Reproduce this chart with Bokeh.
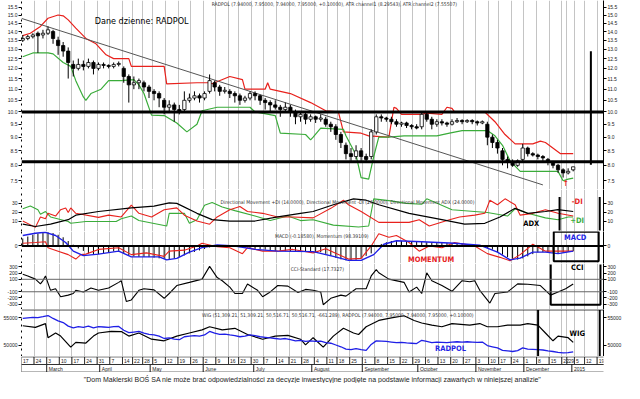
import numpy as np
import pandas as pd
from bokeh.plotting import figure
from bokeh.layouts import column
from bokeh.models import (Range1d, FixedTicker, LinearAxis, LogAxis, Span, Label,
                          PrintfTickFormatter, ColumnDataSource, Grid)
from bokeh.embed import file_html
from bokeh.resources import INLINE

# ---------------- sessions (trading days of the Warsaw exchange) ----------------
holidays = ["2014-04-18", "2014-04-21", "2014-05-01", "2014-06-19", "2014-08-15",
            "2014-11-11", "2014-12-24", "2014-12-25", "2014-12-26", "2014-12-31",
            "2015-01-01", "2015-01-06"]
month_names = {1: "2015", 2: "February", 3: "March", 4: "April", 5: "May", 6: "June",
               7: "July", 8: "August", 9: "September", 10: "October",
               11: "November", 12: "December"}

# ---------------- RADPOL price bars (one bar read every second session) ----------------
bar_open = [13.5, 13.6, 13.7, 13.9, 13.8, 13.9, 14.0, 13.5, 13.2, 12.9,
            12.2, 12.0, 12.2, 12.1, 12.3, 12.0, 12.2, 12.15, 12.1, 12.2,
            12.0, 11.6, 11.2, 11.3, 11.3, 11.1, 10.9, 10.8, 10.5, 10.2,
            10.3, 10.1, 10.1, 10.5, 10.6, 10.7, 10.6, 10.9, 11.3, 11.1,
            10.9, 10.9, 10.8, 10.7, 10.5, 10.6, 10.8, 10.7, 10.5, 10.4,
            10.3, 10.2, 10.1, 10.2, 10.0, 9.8, 9.9, 9.7, 9.8, 9.7,
            9.7, 9.5, 9.4, 9.1, 8.7, 8.4, 8.3, 8.5, 8.3, 8.3,
            9.2, 9.8, 9.75, 9.7, 9.6, 9.5, 9.55, 9.45, 9.4, 9.4,
            9.9, 9.7, 9.5, 9.6, 9.55, 9.5, 9.6, 9.65, 9.6, 9.65,
            9.6, 9.55, 9.5, 9.0, 8.8, 8.5, 8.2, 8.1, 8.0, 8.2,
            8.6, 8.4, 8.35, 8.3, 8.2, 8.1, 8.0, 7.85, 7.75, 7.85]
bar_high = [13.8, 13.8, 13.9, 14.0, 14.1, 14.3, 14.1, 13.7, 13.4, 13.1,
            12.4, 12.5, 12.4, 12.5, 12.4, 12.3, 12.3, 12.2, 12.3, 12.35,
            12.1, 11.7, 11.6, 11.5, 11.4, 11.2, 11.0, 10.9, 10.6, 10.5,
            10.4, 10.3, 10.9, 10.8, 10.9, 10.8, 10.9, 11.7, 11.4, 11.2,
            11.1, 11.0, 10.9, 10.8, 10.7, 10.9, 10.9, 10.75, 10.6, 10.5,
            10.5, 10.3, 10.4, 10.3, 10.1, 10.0, 10.0, 9.9, 9.85, 9.9,
            9.8, 9.6, 9.5, 9.2, 8.8, 8.6, 8.7, 8.6, 8.4, 9.3,
            9.9, 9.9, 9.8, 9.8, 9.7, 9.6, 9.6, 9.5, 9.5, 10.0,
            10.0, 9.8, 9.7, 9.7, 9.6, 9.7, 9.75, 9.7, 9.7, 9.7,
            9.65, 9.65, 9.6, 9.1, 8.9, 8.6, 8.3, 8.2, 8.2, 8.75,
            8.65, 8.45, 8.4, 8.35, 8.25, 8.15, 8.05, 7.9, 7.9, 7.95]
bar_low = [13.4, 13.5, 13.6, 12.8, 13.6, 13.8, 13.3, 12.7, 12.6, 11.5,
           11.6, 11.9, 11.9, 12.0, 11.7, 11.9, 12.0, 12.0, 12.0, 12.1,
           11.3, 10.4, 11.0, 11.0, 10.9, 10.6, 10.5, 10.2, 9.9, 10.0,
           9.6, 9.9, 10.0, 10.4, 10.5, 10.4, 10.5, 10.8, 10.9, 10.7,
           10.8, 10.6, 10.4, 10.3, 10.4, 10.5, 10.5, 10.3, 10.1, 10.0,
           10.1, 9.8, 10.0, 9.8, 9.5, 9.6, 9.5, 9.6, 9.55, 9.6,
           9.4, 9.2, 8.9, 8.6, 8.2, 8.15, 8.2, 8.15, 8.1, 8.2,
           9.1, 9.6, 9.6, 9.5, 9.4, 9.4, 9.35, 9.3, 9.3, 9.3,
           9.6, 9.3, 9.4, 9.45, 9.4, 9.45, 9.55, 9.5, 9.55, 9.5,
           9.45, 9.5, 8.7, 8.6, 8.4, 8.0, 7.9, 7.95, 7.95, 8.1,
           8.3, 8.3, 8.2, 8.15, 8.0, 7.9, 7.75, 7.6, 7.7, 7.8]
bar_close = [13.6, 13.7, 13.8, 13.75, 13.9, 14.1, 13.6, 13.2, 12.9, 12.3,
             12.0, 12.2, 12.1, 12.3, 12.0, 12.2, 12.15, 12.1, 12.2, 12.25,
             11.6, 11.2, 11.3, 11.4, 11.1, 10.9, 10.8, 10.6, 10.2, 10.3,
             10.1, 10.0, 10.5, 10.6, 10.7, 10.6, 10.8, 11.4, 11.1, 10.9,
             10.95, 10.8, 10.7, 10.5, 10.6, 10.8, 10.7, 10.5, 10.4, 10.3,
             10.2, 10.1, 10.2, 10.0, 9.8, 9.9, 9.7, 9.8, 9.7, 9.75,
             9.5, 9.4, 9.1, 8.8, 8.4, 8.3, 8.5, 8.3, 8.2, 9.2,
             9.8, 9.75, 9.7, 9.6, 9.5, 9.55, 9.45, 9.4, 9.35, 9.9,
             9.7, 9.5, 9.6, 9.55, 9.5, 9.6, 9.65, 9.6, 9.65, 9.6,
             9.55, 9.6, 9.0, 8.8, 8.6, 8.2, 8.1, 8.0, 8.15, 8.6,
             8.4, 8.35, 8.3, 8.25, 8.1, 8.0, 7.85, 7.75, 7.8, 7.95]

# ATR channels
atr_up_sess = [0, 3, 7, 10, 14, 16, 18, 21, 25, 29, 33, 36, 42, 43, 52, 56, 57, 69, 74, 75,
               82, 87, 88, 96, 97, 98, 106, 114, 120, 125, 127, 134, 137, 145, 147, 148,
               150, 158, 160, 166, 168, 170, 171, 183, 187, 191, 195, 202, 205, 207, 213, 218]
atr_up_val = [13.76, 13.9, 14.3, 14.8, 15.0, 14.95, 14.7, 14.2, 13.6, 13.3, 12.7, 12.5, 12.5,
              12.1, 12.1, 12.1, 11.25, 11.3, 11.3, 11.25, 11.6, 11.45, 11.0, 11.0, 11.3, 11.0,
              10.8, 10.4, 10.05, 10.0, 9.2, 9.15, 9.05, 9.0, 10.2, 10.15, 9.9, 9.9, 9.95, 9.9,
              10.2, 10.15, 10.0, 10.0, 9.6, 9.1, 8.75, 8.75, 8.85, 8.8, 8.4, 8.4]
atr_dn_sess = [0, 4, 10, 12, 16, 19, 21, 24, 25, 27, 31, 34, 39, 44, 46, 48, 51, 56, 61, 65,
               69, 71, 77, 90, 92, 100, 102, 112, 114, 115, 118, 127, 128, 132, 134, 137, 139,
               141, 145, 151, 164, 169, 174, 184, 187, 190, 193, 197, 212, 214, 216, 218]
atr_dn_val = [12.6, 12.8, 12.8, 12.75, 12.3, 12.1, 11.4, 10.65, 10.5, 10.8, 11.0, 11.4, 11.4,
              11.45, 11.2, 10.8, 9.87, 9.85, 9.55, 9.2, 9.5, 10.05, 10.2, 10.2, 10.0, 9.85,
              9.15, 9.1, 8.9, 9.0, 9.35, 9.3, 9.05, 8.35, 7.6, 7.55, 8.3, 9.0, 9.0, 9.05,
              9.05, 9.15, 9.25, 9.25, 9.05, 8.7, 8.15, 7.8, 7.8, 7.5, 7.55, 7.58]
trend_sess = [-0.5, 206.0]
trend_val = [14.79, 7.37]
level_lines = [10.0, 8.12]

# Directional movement
pdi_sess = [0, 3, 6, 7, 9, 11, 18, 19, 25, 37, 39, 43, 46, 57, 58, 64, 66, 69, 72, 75,
            79, 84, 92, 98, 105, 110, 115, 123, 133, 137, 139, 145, 152, 158, 160, 170,
            184, 192, 195, 200, 207, 212, 216, 218]
pdi_val = [24, 27, 23, 18, 21, 15, 10, 8, 10, 10, 13, 16, 11, 5, 19, 19, 8, 12, 28, 31,
           26, 22, 16, 11, 16, 11, 12, 6, 4, 5, 35, 33, 30, 29, 35, 23,
           20, 16, 24, 19, 14, 12, 15, 15]
mdi_sess = [0, 5, 7, 9, 10, 13, 15, 17, 18, 19, 21, 30, 34, 39, 43, 46, 51, 56, 61, 64,
            69, 74, 77, 82, 86, 89, 95, 101, 107, 115, 122, 127, 129, 134, 141, 153, 157,
            161, 169, 173, 179, 183, 185, 188, 191, 195, 197, 202, 207, 212, 218]
mdi_val = [10.5, 3.5, 15, 13, 19, 16, 23, 25, 20, 25, 19, 14.5, 17, 15, 28, 19, 15, 23, 25,
           17, 10.5, 7, 15, 23, 26.5, 21, 19, 15, 15, 14, 24.5, 33.5, 28.5, 21, 9, 9, 12,
           5, 12, 15, 17, 19, 33.5, 28.5, 35, 28.5, 17, 19, 23, 19, 16]
adx_sess = [0, 5, 11, 18, 21, 30, 43, 52, 58, 61, 69, 75, 82, 92, 101, 110, 115, 123, 131,
            136, 141, 153, 166, 175, 183, 189, 195, 200, 207, 212, 218]
adx_val = [7, 4.5, 7, 12, 17, 21, 25, 27, 30.5, 30, 19, 12, 10.5, 10.5, 15, 19, 21, 28.5,
           35, 33.5, 28.5, 19, 12, 7, 8, 15, 24.5, 19, 21, 23, 21]

# MACD / momentum
macd_sess = [0, 5, 9, 13, 17, 20, 24, 30, 38, 43, 54, 57, 61, 66, 71, 77, 84, 92, 101, 115,
             123, 129, 134, 139, 143, 148, 158, 171, 181, 188, 193, 197, 202, 207, 212, 218]
macd_val = [0.42, 0.51, 0.55, 0.42, 0.14, -0.21, -0.39, -0.33, -0.21, -0.44, -0.44, -0.56,
            -0.5, -0.25, -0.07, 0.04, 0.0, -0.14, -0.21, -0.23, -0.42, -0.58, -0.58, -0.35,
            0.07, 0.21, 0.17, 0.11, 0.03, -0.25, -0.56, -0.49, -0.25, -0.25, -0.31, -0.21]
mom_sess = [0, 5, 9, 10, 14, 18, 21, 23, 25, 30, 38, 43, 49, 56, 58, 64, 69, 71, 77, 82,
            87, 89, 95, 101, 107, 115, 120, 129, 134, 138, 141, 145, 148, 153, 157, 161,
            166, 171, 179, 184, 189, 193, 197, 202, 207, 212, 218]
mom_val = [0.11, 0.14, 0.17, -0.07, -0.21, -0.35, -0.53, -0.35, -0.33, -0.14, -0.07, -0.35,
           -0.28, -0.42, -0.21, -0.17, 0.0, 0.11, -0.03, -0.07, -0.31, -0.07, -0.21, -0.21,
           -0.14, -0.28, -0.11, -0.53, -0.5, 0.0, 0.49, 0.35, 0.42, 0.14, -0.21, 0.0, -0.07,
           0.14, 0.0, -0.31, -0.46, -0.6, -0.35, 0.07, -0.21, -0.21, -0.21]
macd_hist = [0.30, 0.38, 0.45, 0.5, 0.55, 0.55, 0.52, 0.45, 0.35, 0.2,
             0.05, -0.1, -0.2, -0.3, -0.35, -0.33, -0.3, -0.25, -0.22, -0.2,
             -0.3, -0.38, -0.42, -0.44, -0.44, -0.45, -0.47, -0.5, -0.52, -0.55,
             -0.5, -0.45, -0.38, -0.3, -0.24, -0.18, -0.12, -0.06, -0.02, 0.03,
             0.02, 0.0, -0.02, -0.05, -0.08, -0.1, -0.12, -0.13, -0.15, -0.17,
             -0.2, -0.2, -0.21, -0.22, -0.22, -0.23, -0.24, -0.24, -0.25, -0.25,
             -0.32, -0.4, -0.48, -0.54, -0.58, -0.58, -0.56, -0.5, -0.4, -0.3,
             -0.05, 0.08, 0.15, 0.2, 0.21, 0.2, 0.19, 0.18, 0.18, 0.17,
             0.15, 0.14, 0.13, 0.12, 0.12, 0.11, 0.1, 0.08, 0.06, 0.05,
             0.03, 0.0, -0.08, -0.15, -0.25, -0.35, -0.45, -0.52, -0.55, -0.5,
             -0.42, -0.33, -0.26, -0.25, -0.26, -0.28, -0.3, -0.28, -0.24, -0.21]

# CCI
cci_sess = [0, 2, 5, 7, 8, 9, 11, 13, 15, 18, 20, 21, 24, 27, 30, 34, 38, 39, 41, 43,
            46, 48, 52, 56, 58, 61, 66, 71, 74, 77, 79, 82, 84, 87, 89, 93, 95, 98, 101, 105,
            109, 112, 115, 118, 119, 122, 126, 128, 132, 136, 138, 140, 141, 145, 151, 153,
            156, 158, 160, 162, 166, 170, 174, 177, 179, 181, 185, 187, 192, 196, 200, 205,
            209, 212, 215, 218]
cci_val = [180, 154, 103, 26, 80, 154, -77, -51, -180, -154, -128, -77, -103, -41, -77, -41,
           51, 77, -256, -231, -77, -51, -70, -205, -128, 0, 51, 103, 308, 128, 77, -26, -128,
           -128, 26, -77, -180, -103, 0, -10, -113, -62, -77, -103, -308, -205, -154, -170,
           -51, -51, 154, 256, 205, 103, 51, -103, -26, -128, 205, 77, 0, -92, 77, 60, 77,
           -77, -282, -128, -103, 26, 20, 0, -154, -103, -51, 26]

# WIG index
wig_sess = [0, 5, 9, 10, 13, 15, 19, 21, 25, 28, 30, 35, 39, 42, 46, 51, 56, 61, 66, 71,
            74, 79, 84, 89, 95, 100, 105, 110, 112, 115, 119, 123, 127, 131, 133, 136, 141,
            146, 151, 155, 158, 162, 166, 170, 177, 181, 184, 188, 192, 197, 200, 204, 207,
            210, 212, 216, 218]
wig_val = [53570, 53280, 53970, 51380, 52240, 51670, 49660, 50520, 50400, 51670, 52240,
           52530, 52500, 51670, 52240, 51100, 50810, 51670, 52240, 52820, 53390, 52820,
           53100, 51960, 51100, 51670, 51800, 51100, 50060, 51380, 49660, 51670, 53100,
           52240, 51960, 53390, 54540, 55000, 55400, 54540, 54080, 53680, 53390, 53970,
           53680, 53970, 53390, 53390, 53680, 53680, 53970, 53680, 52240, 50810, 51670,
           51380, 50520]

# tick labels
price_ticks = [7.5, 8.0, 8.5, 9.0, 9.5, 10.0, 10.5, 11.0, 11.5, 12.0, 12.5, 13.0, 13.5,
               14.0, 14.5, 15.0, 15.5]
dmi_ticks = [10, 20, 30]
macd_ticks = [0]
cci_ticks = [-300, -200, -100, 100, 200, 300]
wig_ticks = [50000, 55000]

price_title = ("RADPOL (7.94000, 7.95000, 7.94000, 7.95000, +0.10000), "
               "ATR channel1 (8.29543), ATR channel2 (7.55507)")
dmi_title = ("Directional Movement +DI (14.0000), Directional Movement -DI (26.0000), "
             "Directional Movement ADX (24.0000)")
macd_title = "MACD (-0.18580), Momentum (98.39109)"
cci_title = "CCI-Standard (17.7327)"
wig_title = ("WIG (51,309.21, 51,309.21, 50,516.71, 50,516.71, -661.289), "
             "RADPOL (7.94000, 7.95000, 7.94000, 7.95000, +0.10000)")
footer = ("\"Dom Maklerski BOŚ SA nie może brać odpowiedzialności za decyzje inwestycyjne "
          "podjęte na podstawie informacji zawartych w niniejszej analizie\"")

# ---------------- derived calendar ----------------
sessions = pd.bdate_range("2014-02-17", "2015-01-23")
sessions = sessions[~sessions.isin(pd.to_datetime(holidays))]
n_sess = len(sessions)
week_start = [i for i in range(n_sess)
              if i == 0 or sessions[i].isocalendar()[1] != sessions[i - 1].isocalendar()[1]]
month_start = [0] + [i for i in range(1, n_sess) if sessions[i].month != sessions[i - 1].month]
week_bounds = [w - 0.5 for w in week_start]
bar_sess = list(range(0, 2 * len(bar_close), 2))

# ---------------- styling helpers ----------------
W = 624
ML, MR = 18, 18
FONT = "'Liberation Sans', Arial, sans-serif"
NARROW = ("'Liberation Sans Narrow', 'Arial Narrow', 'DejaVu Sans Condensed', "
          "'Roboto Condensed', 'Liberation Sans', Arial, sans-serif")
GRID = "#c4c4c4"
RED = "#e8211c"
GREEN = "#3aac3a"
BLUE = "#1f1fe6"

xr = Range1d(-0.5, 230)


def panel(h, y0, y1, ticks, fmt, log=False):
    p = figure(width=W, height=h, x_range=xr, y_range=Range1d(y0, y1),
               y_axis_type="log" if log else "linear",
               x_axis_location=None, y_axis_location=None,
               output_backend="svg", toolbar_location=None,
               min_border_left=ML, min_border_right=MR, min_border_top=0, min_border_bottom=0)
    p.outline_line_color = None
    p.background_fill_color = "white"
    p.border_fill_color = "white"
    for g in p.xgrid + p.ygrid:
        g.visible = False
    p.add_layout(Grid(dimension=0, ticker=FixedTicker(ticks=week_bounds),
                      grid_line_color=GRID, grid_line_width=1))
    cls = LogAxis if log else LinearAxis
    for side in ("left", "right"):
        ax = cls(ticker=FixedTicker(ticks=ticks), formatter=PrintfTickFormatter(format=fmt))
        ax.major_label_text_font_size = "5px"
        ax.major_label_text_font = FONT
        ax.major_label_text_color = "#222222"
        ax.major_label_standoff = 1
        ax.major_tick_out = 3
        ax.major_tick_in = 0
        ax.minor_tick_out = 0
        ax.minor_tick_in = 0
        ax.axis_line_color = "black"
        ax.major_tick_line_color = "black"
        if side == "left":
            ax.axis_line_dash = "dotted"
        p.add_layout(ax, side)
    return p


def label(p, x, y, text, size="7.5px", color="black", bold=True, align="center", font=NARROW,
          y_range_name="default"):
    p.add_layout(Label(x=x, y=y, text=text, text_font=font, text_font_size=size,
                       text_font_style="bold" if bold else "normal", text_color=color,
                       text_align=align, text_baseline="middle", y_range_name=y_range_name))


# ---------------- price panel ----------------
pp = panel(189, 7.23, 15.94, price_ticks, "%.1f", log=True)
src = ColumnDataSource(dict(x=bar_sess, o=bar_open, h=bar_high, l=bar_low, c=bar_close,
                            fill=["white" if c > o else "black"
                                  for o, c in zip(bar_open, bar_close)]))
pp.line(atr_up_sess, atr_up_val, line_color=RED, line_width=1.2)
pp.line(atr_dn_sess, atr_dn_val, line_color=GREEN, line_width=1.2)
pp.line(trend_sess, trend_val, line_color="#555555", line_width=1)
for lv in level_lines:
    pp.add_layout(Span(location=lv, dimension="width", line_color="black", line_width=3))
pp.segment(x0="x", y0="l", x1="x", y1="h", source=src, line_color="black", line_width=1)
pp.vbar(x="x", width=1.3, top="o", bottom="c", fill_color="fill", line_color="black",
        line_width=0.8, source=src)
pp.segment(x0=[225.0], y0=[8.02], x1=[225.0], y1=[12.89], line_color="black", line_width=2)
label(pp, 28.5, 14.6, "Dane dzienne: RADPOL", size="9px", bold=False, align="left")
label(pp, 74.8, 15.72, price_title, size="5px", bold=False, align="left", color="#333333")
label(pp, 215.0, 7.42, "↑", size="8px", color=RED)

# ---------------- DMI panel ----------------
dp = panel(42, -1.05, 45.3, dmi_ticks, "%d")
dp.line(pdi_sess, pdi_val, line_color=GREEN, line_width=1.1)
dp.line(mdi_sess, mdi_val, line_color=RED, line_width=1.1)
dp.line(adx_sess, adx_val, line_color="black", line_width=1.2)
dp.segment(x0=[212.6, 228.5], y0=[0, 0], x1=[212.6, 228.5], y1=[37, 37],
           line_color="black", line_width=2)
label(dp, 78.3, 31.6, dmi_title, size="5px", bold=False, align="left", color="#333333")
label(dp, 219.6, 32.6, "-DI", color=RED)
label(dp, 219.6, 11.6, "+DI", color=GREEN)
label(dp, 201.4, 7.4, "ADX")

# ---------------- MACD panel ----------------
mp = panel(32, -0.708, 0.583, macd_ticks, "%d")
mp.segment(x0=bar_sess, y0=[0] * len(bar_sess), x1=bar_sess, y1=macd_hist,
           line_color="black", line_width=1)
mp.add_layout(Span(location=0, dimension="width", line_color="black", line_width=2))
mp.line(mom_sess, mom_val, line_color=RED, line_width=1.1)
mp.line(macd_sess, macd_val, line_color=BLUE, line_width=1.4)
mp.quad(left=[210.3], right=[228.1], bottom=[-0.62], top=[0.57], fill_alpha=0,
        line_color="black", line_width=2)
label(mp, 99.9, 0.42, macd_title, size="5px", bold=False, align="left", color="#333333")
label(mp, 218.8, 0.33, "MACD", color=BLUE)
label(mp, 161.7, -0.54, "MOMENTUM", color=RED)

# ---------------- CCI panel ----------------
cp = panel(46, -385, 354, cci_ticks, "%d")
for lv in (-100, 100):
    cp.add_layout(Span(location=lv, dimension="width", line_color="#666666", line_width=1))
cp.line(cci_sess, cci_val, line_color="black", line_width=1.1)
cp.multi_line(xs=[[209.1, 209.1, 228.8, 228.8]], ys=[[338, -308, -308, 338]],
              line_color="black", line_width=2)
label(cp, 106.1, 261, cci_title, size="5px", bold=False, align="left", color="#333333")
label(cp, 219.6, 292, "CCI")

# ---------------- WIG panel ----------------
wp = panel(47, 47930, 56550, wig_ticks, "%d")
wp.extra_y_ranges = {"radpol": Range1d(7.15, 15.12)}
wp.add_layout(Span(location=56480, dimension="width", line_color="black", line_width=1))
wp.line(wig_sess, wig_val, line_color="black", line_width=1.2)
wp.line(bar_sess, bar_close, line_color=BLUE, line_width=1.3, y_range_name="radpol")
wp.segment(x0=[204.1, 228.5], y0=[47930, 47930], x1=[204.1, 228.5], y1=[56480, 56480],
           line_color="black", line_width=2)
label(wp, 71.0, 55600, wig_title, size="5px", bold=False, align="left", color="#333333")
label(wp, 219.6, 52240, "WIG")
label(wp, 169.4, 49310, "RADPOL", color=BLUE)

# ---------------- date axis ----------------
tp = figure(width=W, height=16, x_range=xr, y_range=Range1d(0, 2),
            x_axis_location=None, y_axis_location=None, output_backend="svg",
            toolbar_location=None, min_border_left=ML, min_border_right=MR,
            min_border_top=0, min_border_bottom=0)
tp.outline_line_color = None
for g in tp.xgrid + tp.ygrid:
    g.visible = False
wk_left = [w - 0.5 for w in week_start]
wk_right = wk_left[1:] + [n_sess - 0.5]
tp.quad(left=wk_left, right=wk_right, bottom=[1.0] * len(wk_left), top=[1.95] * len(wk_left),
        fill_color="white", line_color="black", line_width=0.7)
tp.text(x=[l + 0.6 for l in wk_left], y=[1.47] * len(wk_left),
        text=[str(sessions[w].day) for w in week_start],
        text_font_size="5px", text_baseline="middle", text_color="#222222")
mo_left = [m - 0.5 for m in month_start]
mo_right = mo_left[1:] + [n_sess - 0.5]
tp.quad(left=mo_left, right=mo_right, bottom=[0.05] * len(mo_left), top=[1.0] * len(mo_left),
        fill_color="white", line_color="black", line_width=0.7)
tp.text(x=[l + 0.8 for l in mo_left[1:]], y=[0.5] * (len(mo_left) - 1),
        text=[month_names[sessions[m].month] for m in month_start[1:]],
        text_font_size="5px", text_baseline="middle", text_color="#222222")

# ---------------- footer ----------------
fp = figure(width=W, height=11, x_range=Range1d(0, 1), y_range=Range1d(0, 1),
            x_axis_location=None, y_axis_location=None, output_backend="svg",
            toolbar_location=None, min_border=0)
fp.outline_line_color = None
for g in fp.xgrid + fp.ygrid:
    g.visible = False
fp.add_layout(Label(x=0.5, y=0.45, text=footer, text_font=FONT, text_font_size="7px",
                    text_align="center", text_baseline="middle", text_color="#222222"))

layout = column(pp, dp, mp, cp, wp, tp, fp, spacing=0)
open("out.html", "w").write(file_html(layout, INLINE))
